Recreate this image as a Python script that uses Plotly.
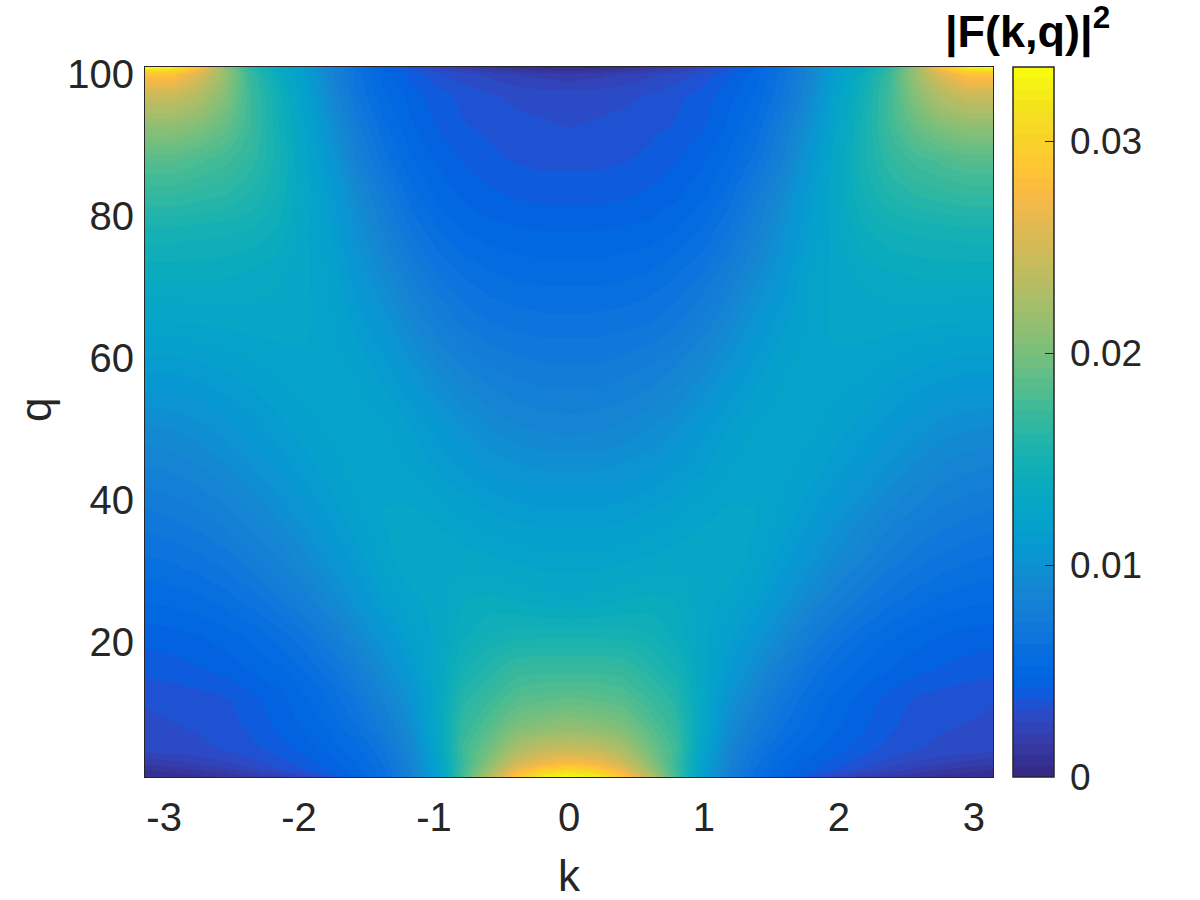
import numpy as np
import plotly.graph_objects as go

# k in steps of pi/16, q rows bottom to top
k_vals = np.arange(-16, 17) * np.pi / 16
q_vals = [1, 2, 3, 5, 8, 12, 16, 21, 26, 32, 38, 44, 50, 58, 65, 72, 78, 83, 88, 93, 97, 100, 101]

# |F(k,q)|^2, in units of 1e-4
F2_q1 = [6, 7, 8, 10, 14, 18, 24, 34, 47, 60, 82, 118, 178, 235, 292, 328, 335, 328, 292, 235, 178, 118, 82, 60, 47, 34, 24, 18, 14, 10, 8, 7, 6]
F2_q2 = [10, 12, 15, 19, 24, 30, 36, 43, 50, 62, 83, 118, 175, 220, 268, 298, 310, 298, 268, 220, 175, 118, 83, 62, 50, 43, 36, 30, 24, 19, 15, 12, 10]
F2_q3 = [17, 19, 22, 25, 29, 34, 39, 45, 52, 64, 85, 120, 172, 210, 248, 270, 278, 270, 248, 210, 172, 120, 85, 64, 52, 45, 39, 34, 29, 25, 22, 19, 17]
F2_q5 = [28, 29, 30, 32, 35, 39, 44, 49, 56, 68, 88, 125, 175, 198, 226, 240, 245, 240, 226, 198, 175, 125, 88, 68, 56, 49, 44, 39, 35, 32, 30, 29, 28]
F2_q8 = [30, 31, 32, 34, 38, 43, 48, 54, 63, 76, 95, 130, 168, 185, 202, 208, 212, 208, 202, 185, 168, 130, 95, 76, 63, 54, 48, 43, 38, 34, 32, 31, 30]
F2_q12 = [32, 33, 34, 36, 40, 45, 51, 59, 70, 85, 102, 130, 160, 172, 184, 187, 190, 187, 184, 172, 160, 130, 102, 85, 70, 59, 51, 45, 40, 36, 34, 33, 32]
F2_q16 = [38, 39, 41, 43, 47, 51, 57, 66, 79, 94, 110, 130, 150, 160, 170, 172, 172, 172, 170, 160, 150, 130, 110, 94, 79, 66, 57, 51, 47, 43, 41, 39, 38]
F2_q21 = [44, 45, 47, 50, 54, 60, 67, 78, 92, 105, 118, 128, 140, 147, 150, 150, 150, 150, 150, 147, 140, 128, 118, 105, 92, 78, 67, 60, 54, 50, 47, 45, 44]
F2_q26 = [53, 54, 56, 60, 65, 72, 80, 91, 103, 116, 124, 128, 136, 138, 136, 133, 132, 133, 136, 138, 136, 128, 124, 116, 103, 91, 80, 72, 65, 60, 56, 54, 53]
F2_q32 = [62, 64, 67, 71, 77, 85, 93, 103, 113, 124, 130, 130, 128, 126, 124, 122, 122, 122, 124, 126, 128, 130, 130, 124, 113, 103, 93, 85, 77, 71, 67, 64, 62]
F2_q38 = [72, 74, 77, 82, 88, 95, 103, 112, 120, 126, 127, 124, 120, 116, 113, 112, 112, 112, 113, 116, 120, 124, 127, 126, 120, 112, 103, 95, 88, 82, 77, 74, 72]
F2_q44 = [82, 84, 87, 92, 98, 105, 112, 118, 123, 124, 121, 115, 110, 105, 102, 100, 100, 100, 102, 105, 110, 115, 121, 124, 123, 118, 112, 105, 98, 92, 87, 84, 82]
F2_q50 = [93, 94, 97, 102, 107, 113, 118, 122, 124, 122, 116, 108, 100, 94, 90, 88, 87, 88, 90, 94, 100, 108, 116, 122, 124, 122, 118, 113, 107, 102, 97, 94, 93]
F2_q58 = [110, 110, 112, 115, 118, 122, 124, 124, 120, 113, 103, 93, 85, 80, 77, 75, 75, 75, 77, 80, 85, 93, 103, 113, 120, 124, 124, 122, 118, 115, 112, 110, 110]
F2_q65 = [125, 125, 126, 127, 128, 128, 127, 122, 113, 103, 90, 80, 72, 68, 66, 65, 65, 65, 66, 68, 72, 80, 90, 103, 113, 122, 127, 128, 128, 127, 126, 125, 125]
F2_q72 = [138, 138, 138, 137, 135, 132, 127, 120, 105, 92, 78, 68, 62, 58, 56, 55, 55, 55, 56, 58, 62, 68, 78, 92, 105, 120, 127, 132, 135, 137, 138, 138, 138]
F2_q78 = [150, 150, 149, 148, 146, 140, 128, 115, 98, 82, 68, 58, 52, 49, 48, 47, 47, 47, 48, 49, 52, 58, 68, 82, 98, 115, 128, 140, 146, 148, 149, 150, 150]
F2_q83 = [168, 168, 165, 162, 156, 146, 130, 112, 92, 75, 60, 51, 46, 43, 41, 40, 40, 40, 41, 43, 46, 51, 60, 75, 92, 112, 130, 146, 156, 162, 165, 168, 168]
F2_q88 = [185, 185, 180, 175, 165, 149, 128, 105, 82, 65, 53, 46, 41, 38, 36, 35, 35, 35, 36, 38, 41, 46, 53, 65, 82, 105, 128, 149, 165, 175, 180, 185, 185]
F2_q93 = [212, 212, 205, 192, 172, 147, 125, 97, 75, 58, 48, 41, 37, 35, 33, 32, 31, 32, 33, 35, 37, 41, 48, 58, 75, 97, 125, 147, 172, 192, 205, 212, 212]
F2_q97 = [245, 245, 230, 205, 172, 145, 120, 90, 67, 53, 45, 39, 35, 32, 30, 29, 29, 29, 30, 32, 35, 39, 45, 53, 67, 90, 120, 145, 172, 205, 230, 245, 245]
F2_q100 = [285, 285, 255, 215, 168, 140, 115, 85, 65, 50, 40, 33, 28, 25, 21, 19, 17, 19, 21, 25, 28, 33, 40, 50, 65, 85, 115, 140, 168, 215, 255, 285, 285]
F2_q101 = [335, 325, 285, 210, 160, 130, 110, 85, 60, 45, 35, 25, 18, 12, 8, 5, 4, 5, 8, 12, 18, 25, 35, 45, 60, 85, 110, 130, 160, 210, 285, 325, 335]

z = np.array([F2_q1, F2_q2, F2_q3, F2_q5, F2_q8, F2_q12, F2_q16, F2_q21, F2_q26, F2_q32, F2_q38, F2_q44,
              F2_q50, F2_q58, F2_q65, F2_q72, F2_q78, F2_q83, F2_q88, F2_q93, F2_q97, F2_q100, F2_q101]) * 1e-4

k_ticks = [-3, -2, -1, 0, 1, 2, 3]
k_labels = ["-3", "-2", "-1", "0", "1", "2", "3"]
q_ticks = [20, 40, 60, 80, 100]
bar_ticks = [0, 0.01, 0.02, 0.03]
bar_labels = ["\u20090", "\u20090.01", "\u20090.02", "\u20090.03"]  # thin space pushes them off the bar

# matlab parula, 64 steps
parula = [
    (0.2081, 0.1663, 0.5292), (0.2116, 0.1898, 0.5777), (0.2123, 0.2138, 0.6270), (0.2081, 0.2386, 0.6771),
    (0.1959, 0.2645, 0.7279), (0.1707, 0.2919, 0.7792), (0.1253, 0.3242, 0.8303), (0.0591, 0.3598, 0.8683),
    (0.0117, 0.3875, 0.8820), (0.0060, 0.4086, 0.8828), (0.0165, 0.4266, 0.8786), (0.0329, 0.4430, 0.8720),
    (0.0498, 0.4586, 0.8641), (0.0629, 0.4737, 0.8554), (0.0723, 0.4887, 0.8467), (0.0779, 0.5040, 0.8384),
    (0.0793, 0.5200, 0.8312), (0.0749, 0.5375, 0.8263), (0.0641, 0.5570, 0.8240), (0.0488, 0.5772, 0.8228),
    (0.0343, 0.5966, 0.8199), (0.0265, 0.6137, 0.8135), (0.0239, 0.6287, 0.8038), (0.0231, 0.6418, 0.7913),
    (0.0228, 0.6535, 0.7768), (0.0267, 0.6642, 0.7607), (0.0384, 0.6743, 0.7436), (0.0590, 0.6838, 0.7254),
    (0.0843, 0.6928, 0.7062), (0.1133, 0.7015, 0.6859), (0.1453, 0.7098, 0.6646), (0.1807, 0.7177, 0.6424),
    (0.2178, 0.7250, 0.6193), (0.2586, 0.7317, 0.5954), (0.3022, 0.7376, 0.5712), (0.3482, 0.7424, 0.5473),
    (0.3953, 0.7459, 0.5244), (0.4420, 0.7481, 0.5033), (0.4871, 0.7491, 0.4840), (0.5300, 0.7491, 0.4661),
    (0.5709, 0.7485, 0.4494), (0.6099, 0.7473, 0.4337), (0.6473, 0.7456, 0.4188), (0.6834, 0.7435, 0.4044),
    (0.7184, 0.7411, 0.3905), (0.7525, 0.7384, 0.3768), (0.7858, 0.7356, 0.3633), (0.8185, 0.7327, 0.3498),
    (0.8507, 0.7299, 0.3360), (0.8824, 0.7274, 0.3217), (0.9139, 0.7258, 0.3063), (0.9450, 0.7261, 0.2886),
    (0.9739, 0.7314, 0.2666), (0.9938, 0.7455, 0.2403), (0.9990, 0.7653, 0.2164), (0.9955, 0.7861, 0.1967),
    (0.9880, 0.8066, 0.1794), (0.9789, 0.8271, 0.1633), (0.9697, 0.8481, 0.1475), (0.9626, 0.8705, 0.1309),
    (0.9589, 0.8949, 0.1132), (0.9598, 0.9218, 0.0948), (0.9661, 0.9514, 0.0755), (0.9763, 0.9831, 0.0538),
]
colorscale = []
for i, c in enumerate(parula):
    col = "rgb(%d,%d,%d)" % (c[0] * 255, c[1] * 255, c[2] * 255)
    colorscale.append([i / 64, col])
    colorscale.append([(i + 1) / 64, col])

# body margin is zeroed in post_script below, so these are page pixels
W, H = 1200, 900
left, right, top, bottom = 145, 993, 67, 777
DARK = "#262626"
FONT = "Liberation Sans"


def px(x):
    return x / W


def py(y):
    return 1 - y / H


fig = go.Figure(go.Heatmap(
    x=k_vals, y=q_vals, z=z,
    zmin=0, zmax=0.0335, zsmooth="best",
    colorscale=colorscale,
    colorbar=dict(
        xref="paper", yref="paper",
        x=px(1013), xanchor="left", xpad=0,
        y=py(777), yanchor="bottom", ypad=0,
        len=(bottom - top) / H, lenmode="fraction",
        thickness=41, thicknessmode="pixels",
        outlinecolor=DARK, outlinewidth=1.5,
        ticks="inside", ticklen=9, tickcolor=DARK, tickwidth=1,
        tickvals=bar_ticks, ticktext=bar_labels,
        tickfont=dict(family=FONT, size=37, color=DARK),
    ),
))

fig.update_layout(
    width=W, height=H,
    margin=dict(l=0, r=0, t=0, b=0, autoexpand=False),
    paper_bgcolor="white", plot_bgcolor="white",
    font=dict(family=FONT, color=DARK),
    xaxis=dict(
        domain=[left / W, right / W], range=[-np.pi, np.pi],
        tickvals=k_ticks, ticktext=k_labels,
        ticks="outside", ticklen=5, tickcolor="rgba(0,0,0,0)",
        tickfont=dict(size=40, color=DARK),
        showgrid=False, zeroline=False,
        showline=True, mirror=True, linecolor=DARK, linewidth=1,
    ),
    yaxis=dict(
        domain=[1 - bottom / H, 1 - top / H], range=[1, 101],
        tickvals=q_ticks,
        ticks="outside", ticklen=2, tickcolor="rgba(0,0,0,0)",
        tickfont=dict(size=40, color=DARK),
        showgrid=False, zeroline=False,
        showline=True, mirror=True, linecolor=DARK, linewidth=1,
    ),
    annotations=[
        dict(text="k", xref="paper", yref="paper", x=px(569), y=py(875),
             xanchor="center", yanchor="middle", showarrow=False,
             font=dict(size=44, color=DARK)),
        dict(text="q", xref="paper", yref="paper", x=px(36), y=py(410), textangle=-90,
             xanchor="center", yanchor="middle", showarrow=False,
             font=dict(size=44, color=DARK)),
        dict(text="<b>|F(k,q)|<sup>2</sup></b>", xref="paper", yref="paper", x=px(1027), y=py(60),
             xanchor="center", yanchor="bottom", showarrow=False,
             font=dict(size=45, color="black")),
    ],
)

fig.write_html("out.html", config={"displayModeBar": False},
               post_script="document.body.style.margin = '0';")
